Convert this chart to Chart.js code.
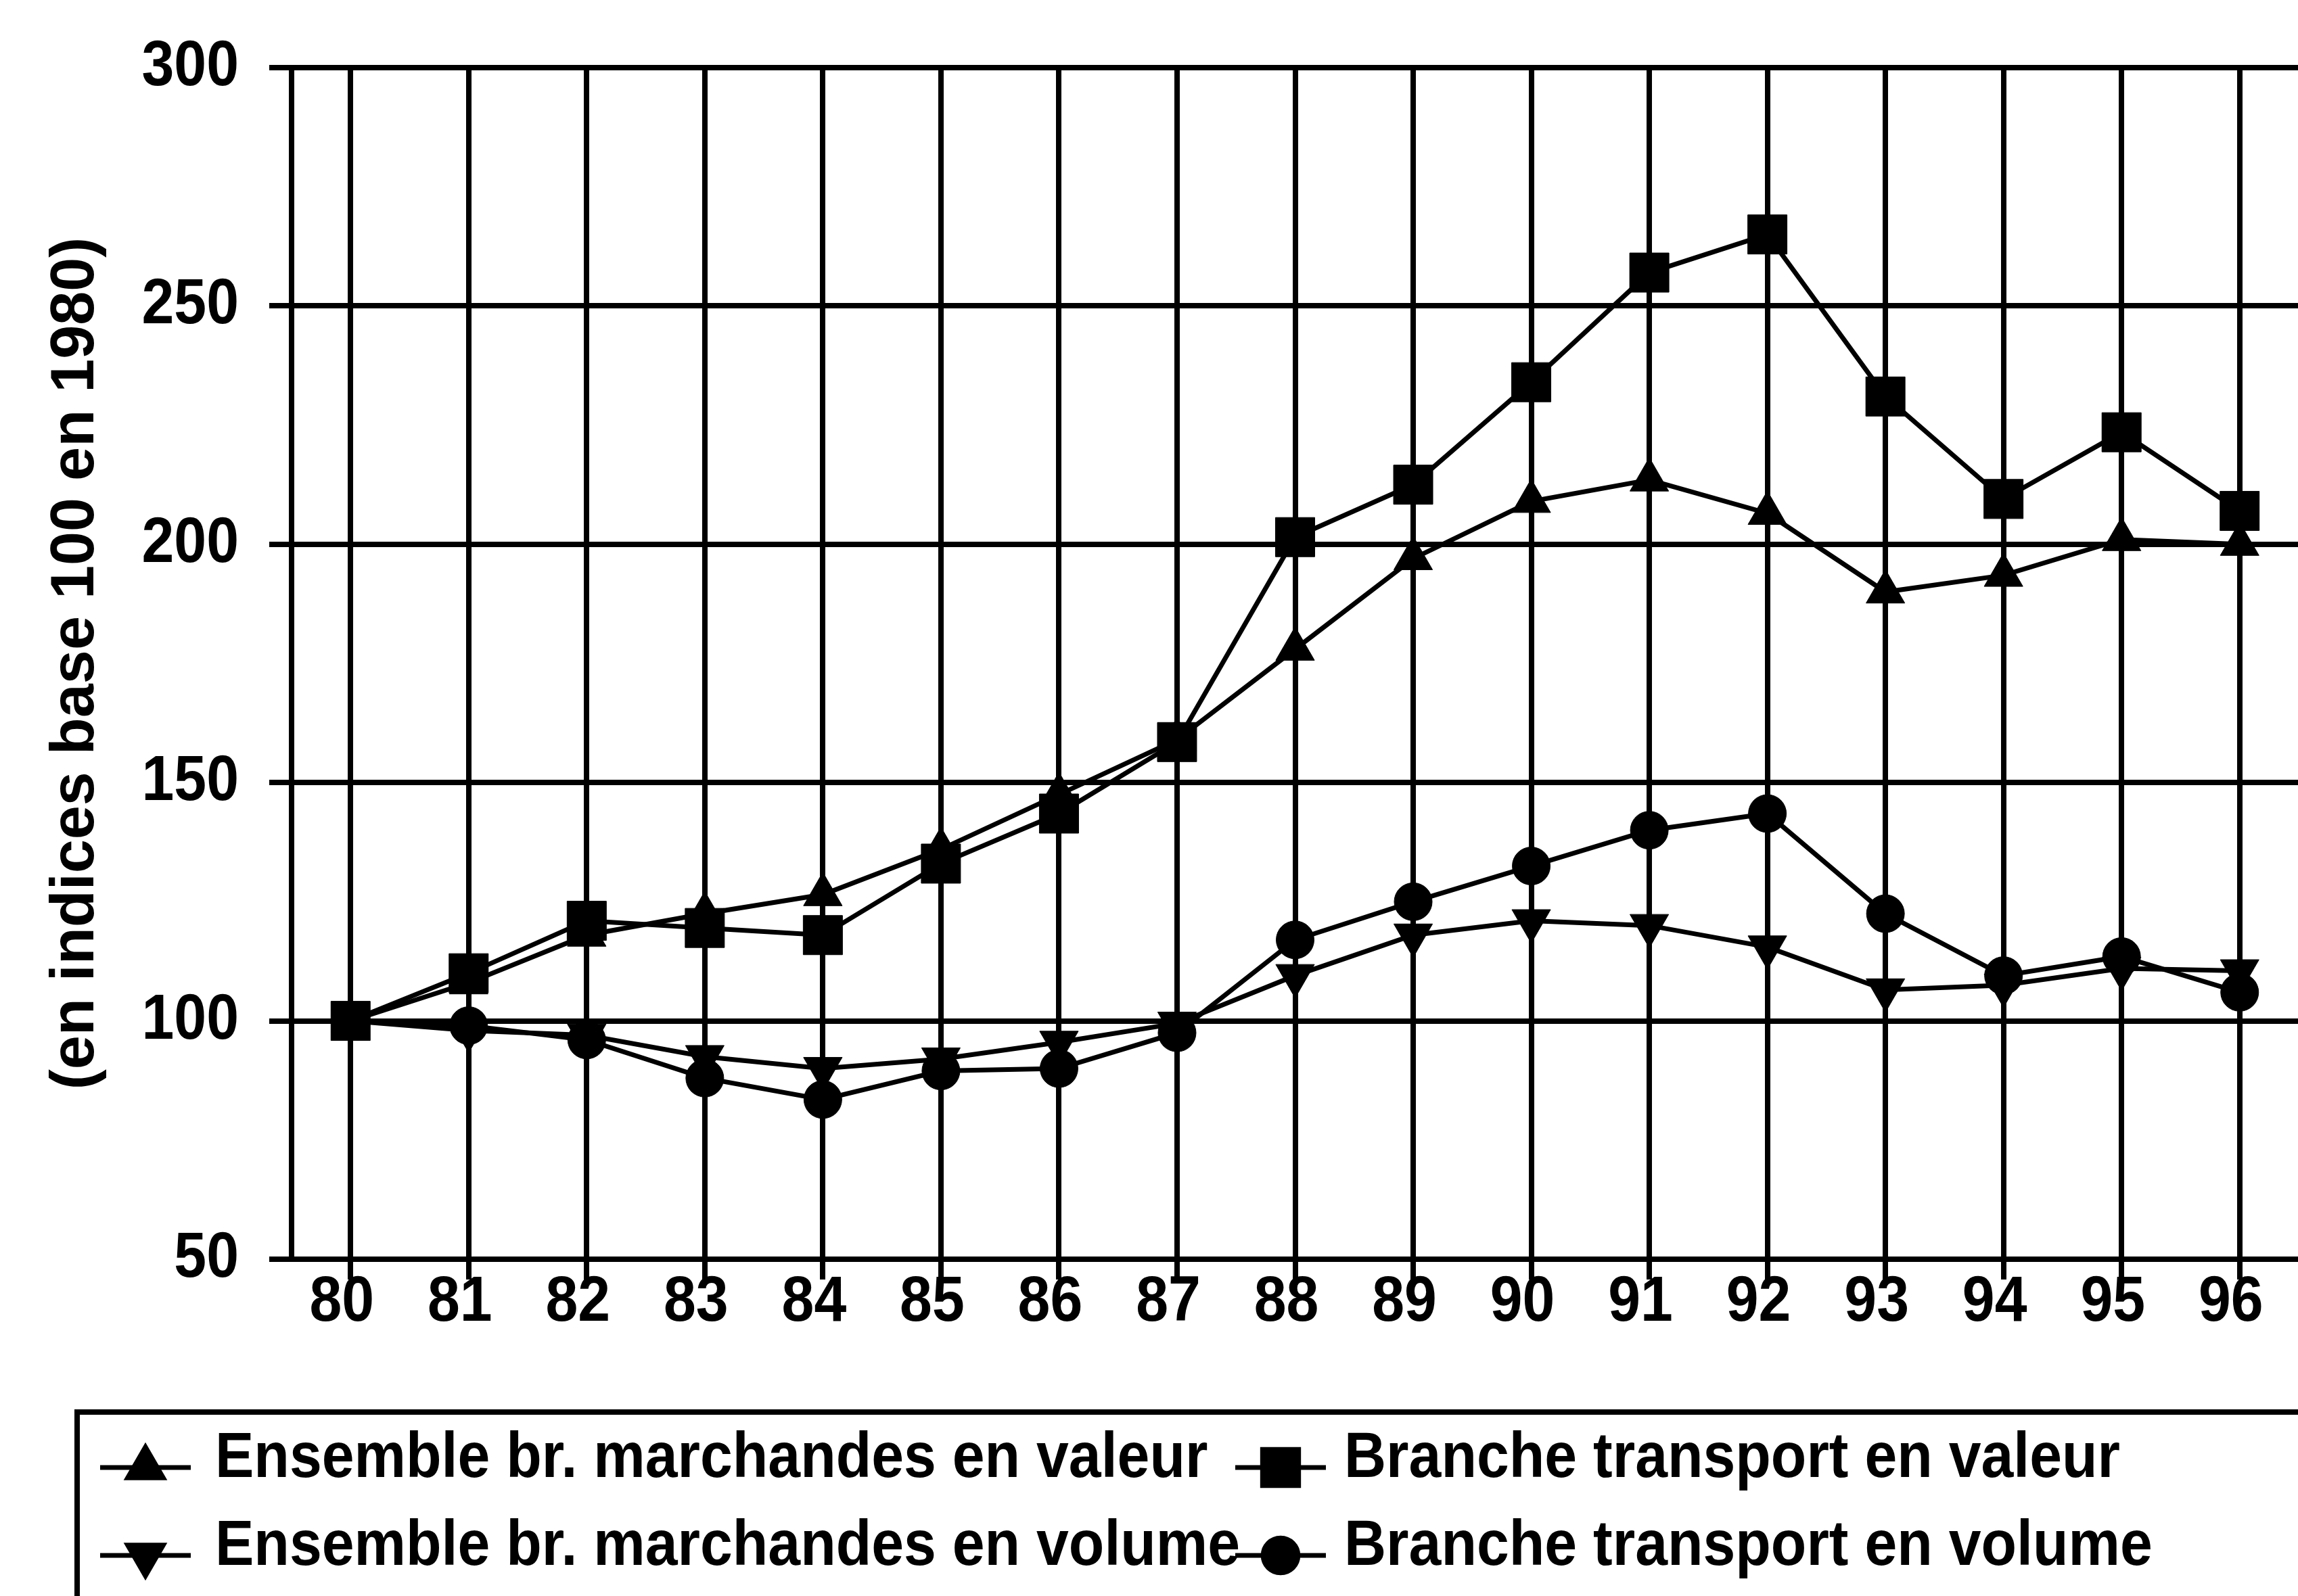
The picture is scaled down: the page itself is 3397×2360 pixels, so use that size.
<!DOCTYPE html>
<html>
<head>
<meta charset="utf-8">
<script src="https://cdn.jsdelivr.net/npm/chart.js@4/dist/chart.umd.min.js"></script>
<style>
  html, body { margin: 0; padding: 0; background: #fff; overflow: hidden; }
  #wrap { width: 3440px; height: 2360px; }
</style>
</head>
<body>
<div id="wrap"><canvas id="c" width="3440" height="2360"></canvas></div>
<script>
// ---- data ----
const years = ['80','81','82','83','84','85','86','87','88','89','90','91','92','93','94','95','96'];
const ensembleValeur  = [100, 108, 118, 122.5, 126.5, 136, 147.5, 159, 178, 197, 209, 213.5, 206.5, 190, 193.5, 201, 200];
const transportValeur = [100, 110, 121, 119.5, 118, 133, 143.5, 158.5, 201.5, 212.5, 234, 257, 265, 231, 209.5, 223.5, 207];
const ensembleVolume  = [100, 98, 97, 92.5, 90, 92, 95.5, 99.5, 109.5, 118, 121, 120, 115.5, 106.5, 107.5, 111, 110.5];
const transportVolume = [100, 99, 96, 88, 83.5, 89.5, 90, 97.5, 117, 125, 132.5, 140, 143.5, 122.5, 109.5, 113.5, 106];
const yTicks = [50, 100, 150, 200, 250, 300];
const yTitle = '(en indices base 100 en 1980)';
const seriesLabels = [
  'Ensemble br. marchandes en valeur',
  'Branche transport en valeur',
  'Ensemble br. marchandes en volume',
  'Branche transport en volume'
];

const FONT = "'Liberation Sans', Arial, Helvetica, sans-serif";
const FS = 86;
const TEXT_STRETCH = 1.1; // the scanned original has slightly tall lettering

const canvas = document.getElementById('c');
const c2d = canvas.getContext('2d');
const origFillText = c2d.fillText;
c2d.fillText = function (t, x, y, mw) {
  const m = this.getTransform();
  if (Math.abs(m.b) > 1e-6 || Math.abs(m.c) > 1e-6) {
    return mw === undefined ? origFillText.call(this, t, x, y) : origFillText.call(this, t, x, y, mw);
  }
  this.save();
  this.translate(x, y);
  this.scale(1, TEXT_STRETCH);
  if (mw === undefined) origFillText.call(this, t, 0, 0); else origFillText.call(this, t, 0, 0, mw);
  this.restore();
};

function ds(label, data, style, radius, rotation) {
  return {
    label, data,
    borderColor: '#000', backgroundColor: '#000',
    borderWidth: 7, tension: 0,
    pointStyle: style, pointRadius: radius, pointHoverRadius: radius,
    pointRotation: rotation || 0,
    pointBackgroundColor: '#000', pointBorderColor: '#000', pointBorderWidth: 1
  };
}

const legendBox = {
  id: 'legendBox',
  afterDraw(chart) {
    const ctx = chart.ctx;
    ctx.save();
    ctx.strokeStyle = '#000';
    ctx.lineWidth = 8;
    ctx.strokeRect(114, 2088, 3600, 600);
    const cols = [148, 1826];
    const rows = [2170, 2300];
    const textX = [318, 1987];
    chart.data.datasets.forEach((d, i) => {
      const c = i % 2, r = Math.floor(i / 2);
      const x0 = cols[c], y = rows[r];
      ctx.strokeStyle = '#000';
      ctx.lineWidth = 7;
      ctx.beginPath();
      ctx.moveTo(x0, y);
      ctx.lineTo(x0 + 134, y);
      ctx.stroke();
      ctx.fillStyle = '#000';
      Chart.helpers.drawPoint(ctx, {
        pointStyle: d.pointStyle,
        rotation: d.pointRotation,
        radius: d.pointRadius * 0.92,
        borderWidth: 1
      }, x0 + 67, y);
      ctx.fillStyle = '#000';
      ctx.font = 'bold ' + FS + 'px ' + FONT;
      ctx.textAlign = 'left';
      ctx.textBaseline = 'alphabetic';
      ctx.fillText(d.label, textX[c], y + 14);
    });
    ctx.restore();
  }
};

new Chart(canvas, {
  type: 'line',
  data: {
    labels: years,
    datasets: [
      ds(seriesLabels[0], ensembleValeur, 'triangle', 33, 0),
      ds(seriesLabels[1], transportValeur, 'rect', 41, 0),
      ds(seriesLabels[2], ensembleVolume, 'triangle', 33, 180),
      ds(seriesLabels[3], transportVolume, 'circle', 28, 0)
    ]
  },
  options: {
    responsive: false,
    devicePixelRatio: 1,
    animation: false,
    layout: { padding: { top: 100, right: 21, bottom: 378, left: 0 } },
    plugins: {
      legend: { display: false },
      tooltip: { enabled: false }
    },
    scales: {
      x: {
        offset: true,
        grid: { color: '#000', lineWidth: 8, tickLength: 30, offset: false, drawOnChartArea: true },
        border: { display: true, color: '#000', width: 8 },
        ticks: {
          color: '#000', font: { family: FONT, size: FS, weight: 'bold' }, padding: -17,
          maxRotation: 0, autoSkip: false, labelOffset: -13
        },
        afterFit: s => { s.height = 120; }
      },
      y: {
        min: 50, max: 300,
        afterBuildTicks: s => { s.ticks = yTicks.map(v => ({ value: v })); },
        grid: { color: '#000', lineWidth: 8, tickLength: 33 },
        border: { display: true, color: '#000', width: 8 },
        ticks: { color: '#000', font: { family: FONT, size: FS, weight: 'bold' }, padding: 45 },
        title: {
          display: true, text: yTitle, color: '#000',
          font: { family: FONT, size: 90, weight: 'bold' }, padding: { top: 59, bottom: 0 }
        },
        afterFit: s => { s.width = 431; }
      }
    }
  },
  plugins: [legendBox]
});
</script>
</body>
</html>
